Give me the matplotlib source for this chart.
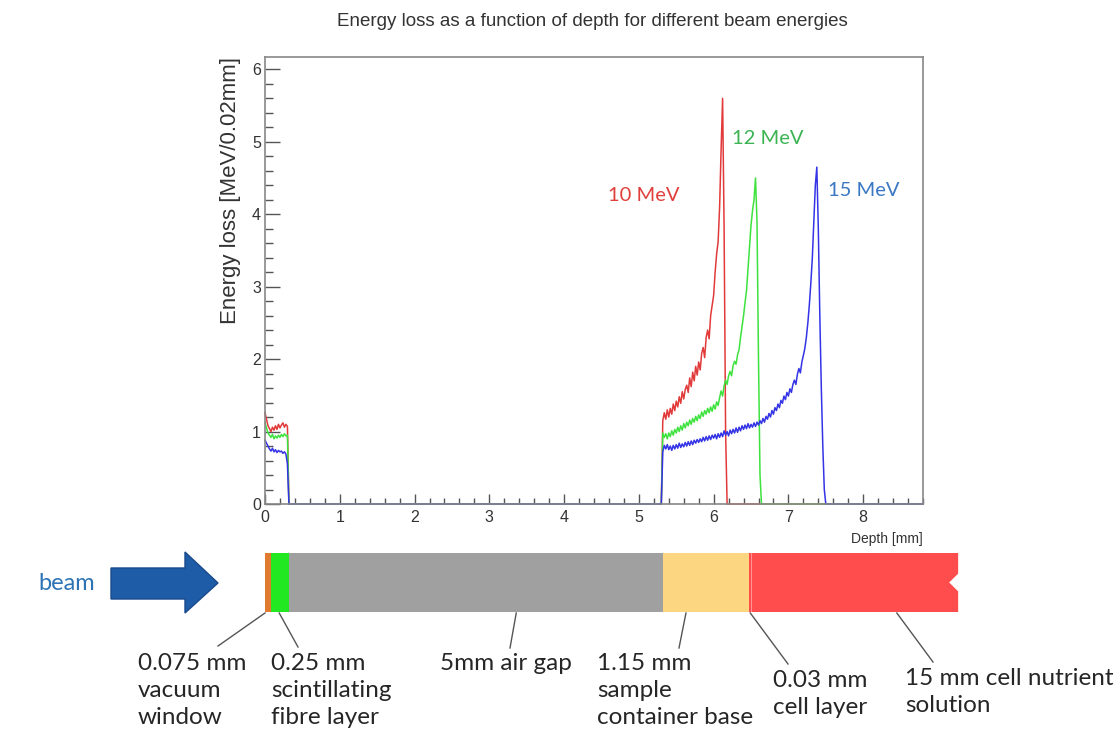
import numpy as np
import matplotlib
matplotlib.use('Agg')
import matplotlib.pyplot as plt
import matplotlib.patches as mpatches
from matplotlib.ticker import MultipleLocator
from matplotlib.transforms import blended_transform_factory

plt.rcParams['font.family'] = ['Liberation Sans', 'DejaVu Sans']

# ---------------- data ----------------
bin_width = 0.02          # mm per histogram bin
tail_start = 5.30         # depth where the beam reaches the sample container

# front part: vacuum window + scintillating fibre (depth 0 .. 0.32 mm)
red_front = [1.26, 1.17, 1.08, 1.04, 1.00, 1.06, 1.02, 1.08, 1.03, 1.10,
             1.05, 1.09, 1.12, 1.06, 1.10, 1.07, 0.0]
green_front = [1.12, 1.05, 0.98, 0.95, 0.92, 0.96, 0.90, 0.94, 0.91, 0.95,
               0.92, 0.96, 0.93, 0.97, 0.94, 0.95, 0.0]
blue_front = [0.88, 0.84, 0.80, 0.76, 0.73, 0.77, 0.72, 0.75, 0.71, 0.74,
              0.72, 0.73, 0.70, 0.72, 0.69, 0.55, 0.0]

# sample container + cells + nutrient solution (from 5.30 mm)
red_tail = [0.0, 1.15, 1.26, 1.17, 1.30, 1.20, 1.32, 1.24, 1.38, 1.29,
            1.42, 1.34, 1.48, 1.39, 1.55, 1.45, 1.58, 1.64, 1.54, 1.74,
            1.62, 1.82, 1.70, 1.90, 1.78, 1.96, 1.85, 2.08, 2.16, 2.02,
            2.30, 2.40, 2.28, 2.60, 2.74, 2.88, 3.20, 3.45, 3.62, 4.10,
            4.90, 5.60, 3.80, 1.00, 0.0]
green_tail = [0.0, 0.98, 0.92, 0.97, 0.90, 0.98, 0.93, 1.01, 0.95, 1.03,
              0.98, 1.06, 1.00, 1.08, 1.02, 1.11, 1.05, 1.13, 1.08, 1.16,
              1.10, 1.18, 1.13, 1.21, 1.15, 1.23, 1.18, 1.27, 1.21, 1.29,
              1.24, 1.32, 1.26, 1.34, 1.28, 1.37, 1.31, 1.41, 1.36, 1.47,
              1.56, 1.49, 1.63, 1.71, 1.65, 1.77, 1.83, 1.77, 1.91, 1.97,
              1.93, 2.06, 2.13, 2.30, 2.45, 2.60, 2.78, 2.95, 3.25, 3.55,
              3.85, 4.05, 4.20, 4.50, 3.90, 2.00, 0.40, 0.0]
blue_tail = [0.0, 0.72, 0.81, 0.76, 0.82, 0.75, 0.80, 0.74, 0.81, 0.76,
             0.82, 0.77, 0.84, 0.78, 0.83, 0.79, 0.85, 0.80, 0.86, 0.81,
             0.87, 0.82, 0.88, 0.84, 0.89, 0.85, 0.90, 0.86, 0.92, 0.87,
             0.93, 0.88, 0.94, 0.89, 0.95, 0.91, 0.96, 0.90, 0.97, 0.92,
             0.98, 0.93, 1.01, 0.95, 1.00, 0.94, 1.02, 0.97, 1.03, 0.98,
             1.05, 0.99, 1.06, 1.01, 1.08, 1.03, 1.09, 1.04, 1.11, 1.05,
             1.10, 1.06, 1.12, 1.07, 1.13, 1.09, 1.15, 1.11, 1.18, 1.13,
             1.21, 1.17, 1.25, 1.20, 1.29, 1.24, 1.33, 1.29, 1.38, 1.33,
             1.43, 1.39, 1.49, 1.44, 1.54, 1.49, 1.59, 1.54, 1.65, 1.71,
             1.65, 1.79, 1.87, 1.81, 1.96, 2.05, 2.15, 2.30, 2.50, 2.75,
             3.05, 3.40, 3.90, 4.40, 4.65, 3.80, 2.60, 1.60, 0.80, 0.20,
             0.0]

energies = ['10 MeV', '12 MeV', '15 MeV']
label_pos = [(4.59, 4.26), (6.24, 5.05), (7.53, 4.33)]

# target layers (thickness in mm) for the sketch under the plot
layer_thickness = [0.075, 0.25, 5.0, 1.15, 0.03, 15.0]
layer_labels = ['0.075 mm\nvacuum\nwindow', '0.25 mm\nscintillating\nfibre layer',
                '5mm air gap', '1.15 mm\nsample\ncontainer base',
                '0.03 mm\ncell layer', '15 mm cell nutrient\nsolution']
layer_colors = ['#e07a2e', '#22e822', '#a0a0a0', '#fcd680', '#ff4d4d', '#ff4d4d']
sketch_cut = 9.27   # nutrient layer is drawn cut off here

XMAX = 8.8
YMAX = 6.17


def build_series(front, tail):
    x = np.r_[np.arange(len(front)) * bin_width,
              tail_start + np.arange(len(tail)) * bin_width, XMAX]
    y = np.r_[front, tail, 0.0]
    return x, y


fig = plt.figure(figsize=(11.2, 7.42), dpi=100)

# pixel overlay for the sketch (y down, like the picture)
ax_px = fig.add_axes([0, 0, 1, 1])
ax_px.set_xlim(0, 1120)
ax_px.set_ylim(742, 0)
ax_px.axis('off')

ax = fig.add_axes([265 / 1120, 1 - 504 / 742, 658 / 1120, 447 / 742])

curve_colors = ['#e23a3a', '#3ee23e', '#3434e6']
text_colors = ['#e0403c', '#3cb454', '#3a78c4']
series = [(red_front, red_tail), (green_front, green_tail), (blue_front, blue_tail)]
for (front, tail), col in zip(series, curve_colors):
    x, y = build_series(front, tail)
    ax.plot(x, y, color=col, lw=1.1, clip_on=False)

for name, (lx, ly), tc in zip(energies, label_pos, text_colors):
    ax.text(lx, ly, name, color=tc, fontsize=14.5, family=['Lato', 'DejaVu Sans'],
            va='center', ha='left')

ax.set_xlim(0, XMAX)
ax.set_ylim(0, YMAX)
ax.xaxis.set_major_locator(MultipleLocator(1))
ax.xaxis.set_minor_locator(MultipleLocator(0.2))
ax.yaxis.set_major_locator(MultipleLocator(1))
ax.yaxis.set_minor_locator(MultipleLocator(0.2))
ax.tick_params(axis='x', which='major', direction='in', length=7, width=1,
               color='#555555', labelsize=11.5, labelcolor='#333333', pad=4)
ax.tick_params(axis='x', which='minor', direction='in', length=4, width=1,
               color='#555555')
ax.tick_params(axis='y', which='major', direction='in', length=11, width=1,
               color='#555555', labelsize=11.5, labelcolor='#333333', pad=3)
ax.tick_params(axis='y', which='minor', direction='in', length=6, width=1,
               color='#555555')
for sp in ax.spines.values():
    sp.set_color('#888888')
    sp.set_linewidth(1.2)

ax.set_ylabel('Energy loss [MeV/0.02mm]', fontsize=16, color='#333333',
              loc='top', labelpad=8)
ax.set_xlabel('Depth [mm]', fontsize=10, color='#333333', loc='right',
              labelpad=5)
fig.text(592 / 1120, 1 - 22 / 742,
         'Energy loss as a function of depth for different beam energies',
         ha='center', va='center', fontsize=13.5, color='#333333')

# ---------------- target sketch ----------------
blend = blended_transform_factory(ax.transData, ax_px.transData)
bar_top, bar_bot = 553, 612
edges = np.r_[0, np.cumsum(layer_thickness)]
for i, col in enumerate(layer_colors):
    x0 = edges[i]
    x1 = min(edges[i + 1], sketch_cut)
    if i < len(layer_colors) - 1:
        patch = mpatches.Rectangle((x0, bar_top), x1 - x0, bar_bot - bar_top,
                                   facecolor=col, edgecolor='none',
                                   transform=blend, clip_on=False)
    else:
        h = bar_bot - bar_top
        verts = [(x0, bar_top), (x1, bar_top), (x1, bar_top + 0.35 * h),
                 (x1 - 0.12, bar_top + 0.5 * h), (x1, bar_top + 0.65 * h),
                 (x1, bar_bot), (x0, bar_bot)]
        patch = mpatches.Polygon(verts, closed=True, facecolor=col,
                                 edgecolor='none', transform=blend,
                                 clip_on=False)
    ax_px.add_patch(patch)


def depth_px(d):
    return ax.transData.transform((d, 0))[0]


# leader lines: depth on the bar -> label point (px), and label placement
leader_depth = [0.0, 0.19, 3.36, 5.63, 6.49, 8.45]
leader_end = [(218, 646), (298, 647), (510, 648), (679, 648), (788, 664), (933, 662)]
label_xy = [(138, 653), (271, 653), (440, 653), (597, 653), (773, 670), (905, 668)]
for d, (ex, ey), (tx, ty), lab in zip(leader_depth, leader_end, label_xy, layer_labels):
    ax_px.plot([depth_px(d), ex], [bar_bot + 1, ey], color='#555555', lw=1,
               clip_on=False)
    ax_px.text(tx, ty, lab, ha='left', va='top', fontsize=17.5,
               family=['Lato', 'DejaVu Sans'], color='#262626', linespacing=1.36)

# beam arrow
beam_arrow = mpatches.Polygon([(111, 568), (185, 568), (185, 552), (218, 583),
                               (185, 613), (185, 599), (111, 599)],
                              closed=True, facecolor='#1f5ca8',
                              edgecolor='#1a4a8c', lw=1)
ax_px.add_patch(beam_arrow)
ax_px.text(38, 583, 'beam', ha='left', va='center', fontsize=17,
           family=['Lato', 'DejaVu Sans'], color='#2e74b5')

fig.savefig('out.png', dpi=100)
